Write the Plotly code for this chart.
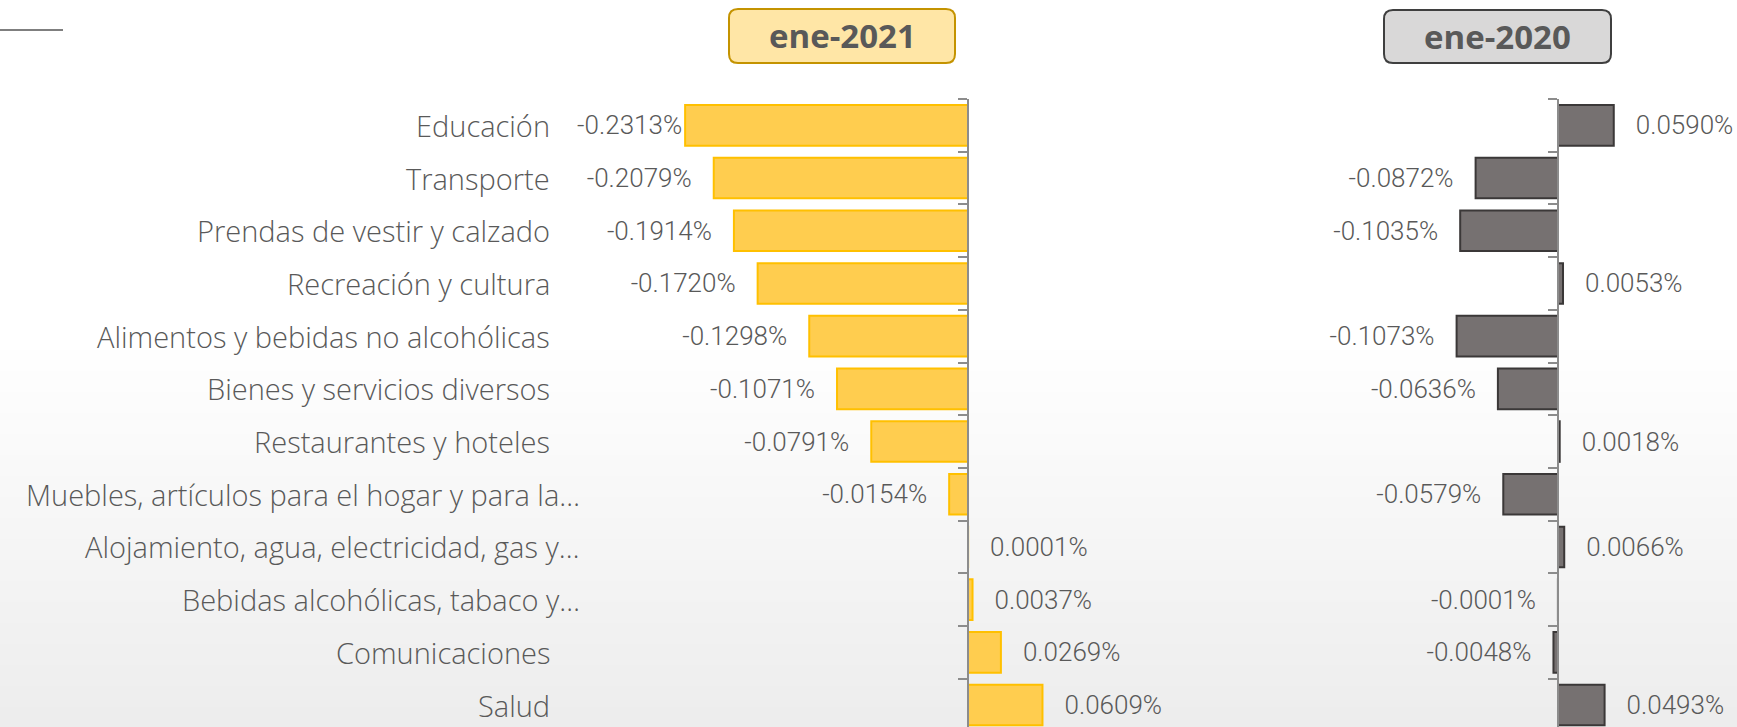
import plotly.graph_objects as go

# ---------------- data ----------------
categories = [
    "Educación",
    "Transporte",
    "Prendas de vestir y calzado",
    "Recreación y cultura",
    "Alimentos y bebidas no alcohólicas",
    "Bienes y servicios diversos",
    "Restaurantes y hoteles",
    "Muebles, artículos para el hogar y para la…",
    "Alojamiento, agua, electricidad, gas y…",
    "Bebidas alcohólicas, tabaco y…",
    "Comunicaciones",
    "Salud",
]
ene_2021 = [-0.2313, -0.2079, -0.1914, -0.1720, -0.1298, -0.1071,
            -0.0791, -0.0154, 0.0001, 0.0037, 0.0269, 0.0609]
ene_2020 = [0.0590, -0.0872, -0.1035, 0.0053, -0.1073, -0.0636,
            0.0018, -0.0579, 0.0066, -0.0001, -0.0048, 0.0493]
panel_titles = ["ene-2021", "ene-2020"]

# ---------------- geometry helpers ----------------
W, H = 1737, 727


def px(x):
    return x / W


def py(y):
    return 1 - y / H


GREY_TXT = "#595959"
AXIS_GREY = "#8C8C8C"
VAL_FONT = "Roboto, Liberation Sans, sans-serif"
CAT_FONT = "Open Sans, Noto Sans, sans-serif"

# plot-area geometry (pixels)
top_px = 99
step_px = 52.7
y_bottom = -0.5 + (H - top_px) / step_px

left_zero, left_scale, left_dom = 968, 1223.0, (600, 1150)
right_zero, right_scale, right_dom = 1558, 945.0, (1180, 1737)


def xrange_for(zero, scale, dom):
    return [(dom[0] - zero) / scale, (dom[1] - zero) / scale]


def fmt(v):
    s = f"{v:.4f}%"
    if v < 0:
        # labels of the longest bars are squeezed against the bar end
        return s if v < -0.22 else s + "\u00a0\u00a0\u00a0"
    return "\u00a0\u00a0\u00a0" + s


fig = go.Figure()

fig.add_trace(go.Bar(
    y=categories, x=ene_2021, orientation="h", xaxis="x", yaxis="y",
    marker=dict(color="#FFCD4F", line=dict(color="#FFC000", width=2)),
    text=[fmt(v) for v in ene_2021], textposition="outside",
    textfont=dict(family=VAL_FONT, size=26, color=GREY_TXT, weight=300),
    cliponaxis=False, constraintext="none", hoverinfo="skip",
    name=panel_titles[0],
))
fig.add_trace(go.Bar(
    y=categories, x=ene_2020, orientation="h", xaxis="x2", yaxis="y2",
    marker=dict(color="#767171", line=dict(color="#3B3838", width=2)),
    text=[fmt(v) for v in ene_2020], textposition="outside",
    textfont=dict(family=VAL_FONT, size=26, color=GREY_TXT, weight=300),
    cliponaxis=False, constraintext="none", hoverinfo="skip",
    name=panel_titles[1],
))

yax_common = dict(
    type="category", categoryorder="array", categoryarray=categories,
    range=[y_bottom, -0.5], domain=[0, py(top_px)],
    showticklabels=False, ticks="outside", tickson="boundaries",
    ticklen=9, tickwidth=2, tickcolor=AXIS_GREY,
    showline=True, linecolor=AXIS_GREY, linewidth=2,
    showgrid=False, zeroline=False, anchor="free", side="left",
    layer="above traces",
)

fig.update_layout(
    width=W, height=H,
    margin=dict(l=0, r=0, t=0, b=0, pad=0),
    paper_bgcolor="white", plot_bgcolor="rgba(0,0,0,0)",
    showlegend=False, bargap=0.23,
    xaxis=dict(domain=[px(left_dom[0]), px(left_dom[1])],
               range=xrange_for(left_zero, left_scale, left_dom),
               visible=False, anchor="y"),
    xaxis2=dict(domain=[px(right_dom[0]), px(right_dom[1])],
                range=xrange_for(right_zero, right_scale, right_dom),
                visible=False, anchor="y2"),
    yaxis=dict(position=px(left_zero), **yax_common),
    yaxis2=dict(position=px(right_zero), **yax_common),
)

# ---------------- category labels ----------------
for c in categories:
    xr = 582 if c.endswith("…") else 552
    fig.add_annotation(
        x=px(xr), xref="paper", y=c, yref="y", xanchor="right", yanchor="middle",
        text=c, showarrow=False,
        font=dict(family=CAT_FONT, size=29, color=GREY_TXT, weight=300),
    )


# ---------------- title boxes ----------------
def rounded_rect(x0, y0, x1, y1, r):
    pts = [
        f"M {px(x0 + r)},{py(y0)}",
        f"L {px(x1 - r)},{py(y0)}",
        f"Q {px(x1)},{py(y0)} {px(x1)},{py(y0 + r)}",
        f"L {px(x1)},{py(y1 - r)}",
        f"Q {px(x1)},{py(y1)} {px(x1 - r)},{py(y1)}",
        f"L {px(x0 + r)},{py(y1)}",
        f"Q {px(x0)},{py(y1)} {px(x0)},{py(y1 - r)}",
        f"L {px(x0)},{py(y0 + r)}",
        f"Q {px(x0)},{py(y0)} {px(x0 + r)},{py(y0)}",
        "Z",
    ]
    return " ".join(pts)


boxes = [
    ((729, 9, 955, 63), "#FFE6A6", "#C49300"),
    ((1384, 10, 1611, 63), "#D9D8D8", "#3F3F3F"),
]
for (x0, y0, x1, y1), fill, border in boxes:
    fig.add_shape(type="path", path=rounded_rect(x0, y0, x1, y1, 9),
                  xref="paper", yref="paper", fillcolor=fill,
                  line=dict(color=border, width=2))

for title, ((x0, y0, x1, y1), _, _) in zip(panel_titles, boxes):
    fig.add_annotation(
        x=px((x0 + x1) / 2), y=py((y0 + y1) / 2), xref="paper", yref="paper",
        xanchor="center", yanchor="middle", text=f"<b>{title}</b>",
        showarrow=False, font=dict(family="Open Sans, sans-serif", size=33, color=GREY_TXT),
    )

# ---------------- decoration ----------------
fig.add_shape(type="line", x0=0, x1=px(63), y0=py(30), y1=py(30),
              xref="paper", yref="paper", line=dict(color="#7F7F7F", width=2))

for k in range(18):
    y0 = 350 + k * 21
    fig.add_shape(type="rect", x0=0, x1=1, y0=py(y0), y1=0,
                  xref="paper", yref="paper", layer="below",
                  fillcolor="rgba(128,128,128,0.0065)", line=dict(width=0))

fig.write_html("out.html", config={"displayModeBar": False, "staticPlot": True},
               post_script="document.body.style.margin='0';")
